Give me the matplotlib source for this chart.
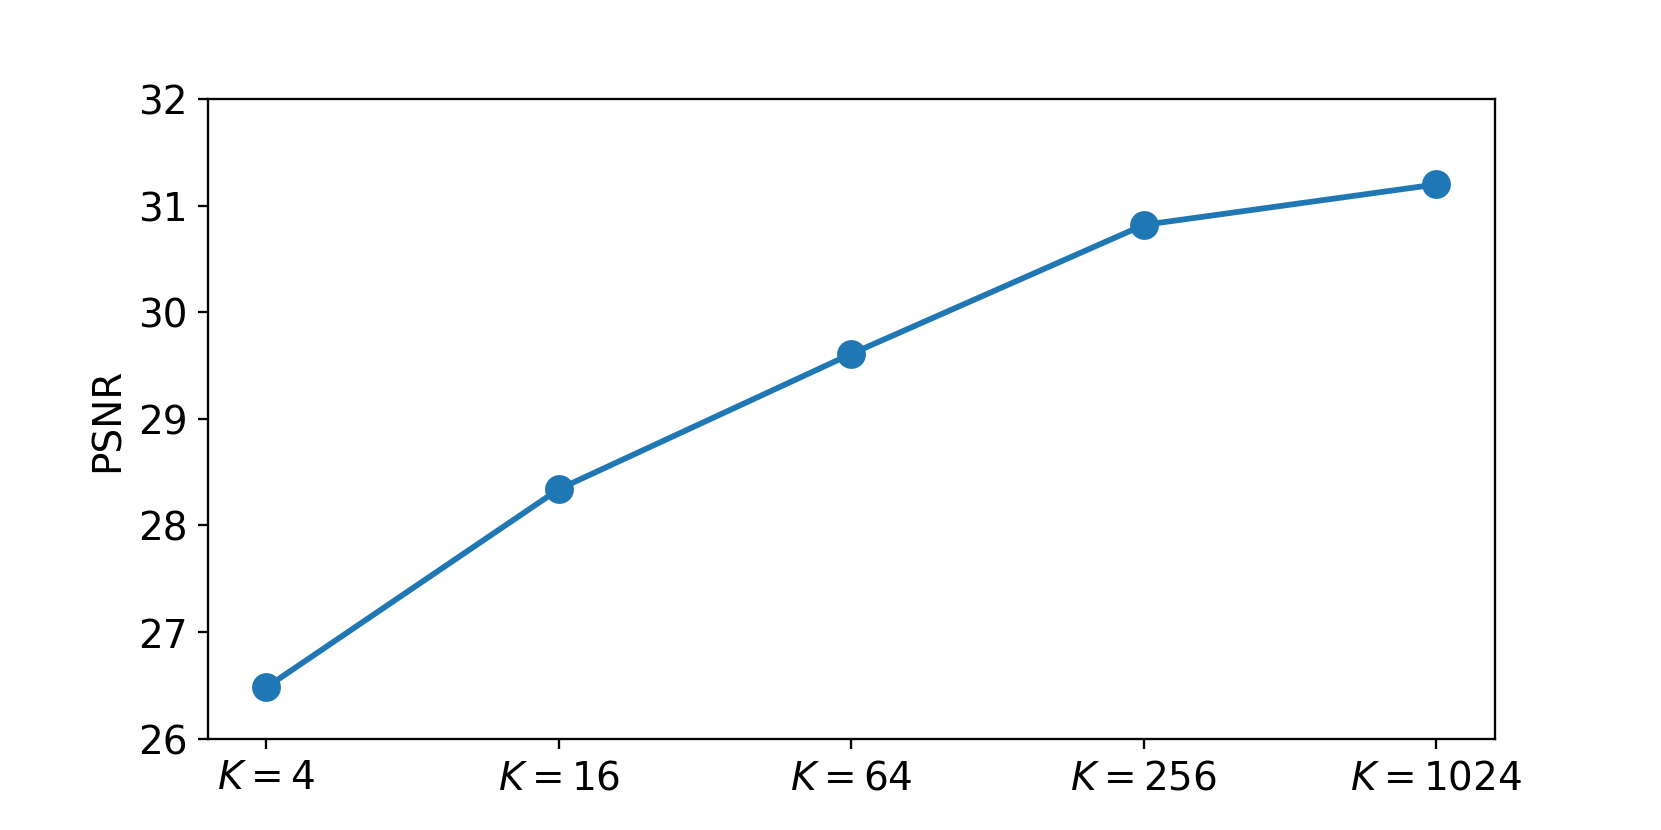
import matplotlib
matplotlib.use("Agg")
import matplotlib.pyplot as plt

plt.rcParams["font.size"] = 13.5

k_labels = [r"$K=4$", r"$K=16$", r"$K=64$", r"$K=256$", r"$K=1024$"]
psnr = [26.48, 28.34, 29.61, 30.82, 31.20]

fig, ax = plt.subplots(figsize=(8, 4), dpi=207.625)
ax.plot(range(len(psnr)), psnr, marker="o", lw=2, ms=9)
ax.set_xticks(range(len(psnr)))
ax.set_xticklabels(k_labels)
ax.set_ylim(26, 32)
ax.set_ylabel("PSNR")

fig.savefig("out.png", dpi=207.625)
